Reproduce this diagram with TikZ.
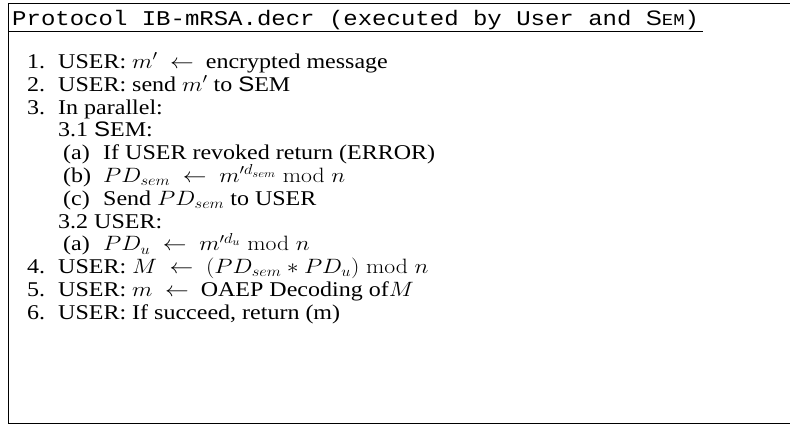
\documentclass[tikz,border=0pt]{standalone}
\usepackage{graphicx}
\usepackage[no-math]{fontspec}
\setmainfont{Liberation Serif}
\setsansfont{Liberation Sans}
\setmonofont{Liberation Mono}
\newcommand\Sem{\textsf{S}EM}
\newcommand\Ar{\ \leftarrow\ }
\newcommand\SX[1]{\scalebox{1.143}[1]{#1}}
\tikzset{
  line/.style={anchor=base west, inner sep=0pt, font=\fontsize{21}{23}\selectfont},
  frame/.style={line width=1.5pt},
}
\begin{document}
\begin{tikzpicture}[x=1pt,y=-1pt]
\useasboundingbox (0,0) rectangle (790,426);
\draw[frame] (791,3.5) -- (8.5,3.5) -- (8.5,423.5) -- (791,423.5);
\node[anchor=base west, inner sep=0pt] (title) at (12,25)
  {\SX{\fontsize{21}{21}\selectfont\ttfamily Protocol IB-mRSA.decr (executed by User and {\sffamily S}{\fontsize{16.5}{16.5}\selectfont EM})}};
\coordinate (ulL) at (8.5,31.5);
\coordinate (ulR) at (703,31.5);
\draw[frame] (ulL) -- (ulR);
% numbered lines
\node[line] (n1) at (27,68.5) {\SX{1.}};
\node[line] (t1) at (58,68.5) {\SX{USER: $m'\Ar$ encrypted message}};
\node[line] (n2) at (27,91.3) {\SX{2.}};
\node[line] (t2) at (58,91.3) {\SX{USER: send $m'$ to \Sem}};
\node[line] (n3) at (27,114.1) {\SX{3.}};
\node[line] (t3) at (58,114.1) {\SX{In parallel:}};
\node[line] (t31) at (58,136.9) {\SX{3.1 \Sem:}};
\node[line] (a1) at (63,159.7) {\SX{(a)}};
\node[line] (ta1) at (103,159.7) {\SX{If USER revoked return (ERROR)}};
\node[line] (b1) at (63,182.5) {\SX{(b)}};
\node[line] (tb1) at (103,182.5) {\SX{$PD_{sem}\Ar m'^{d_{sem}} \bmod n$}};
\node[line] (c1) at (63,205.3) {\SX{(c)}};
\node[line] (tc1) at (103,205.3) {\SX{Send $PD_{sem}$ to USER}};
\node[line] (t32) at (58,228.1) {\SX{3.2 USER:}};
\node[line] (a2) at (63,250.9) {\SX{(a)}};
\node[line] (ta2) at (103,250.9) {\SX{$PD_{u}\Ar m'^{d_{u}} \bmod n$}};
\node[line] (n4) at (27,273.7) {\SX{4.}};
\node[line] (t4) at (58,273.7) {\SX{USER: $M\Ar (PD_{sem} * PD_{u}) \bmod n$}};
\node[line] (n5) at (27,296.5) {\SX{5.}};
\node[line] (t5) at (58,296.5) {\SX{USER: $m\Ar$ OAEP Decoding of$M$}};
\node[line] (n6) at (27,319.3) {\SX{6.}};
\node[line] (t6) at (58,319.3) {\SX{USER: If succeed, return (m)}};
\end{tikzpicture}
\end{document}
